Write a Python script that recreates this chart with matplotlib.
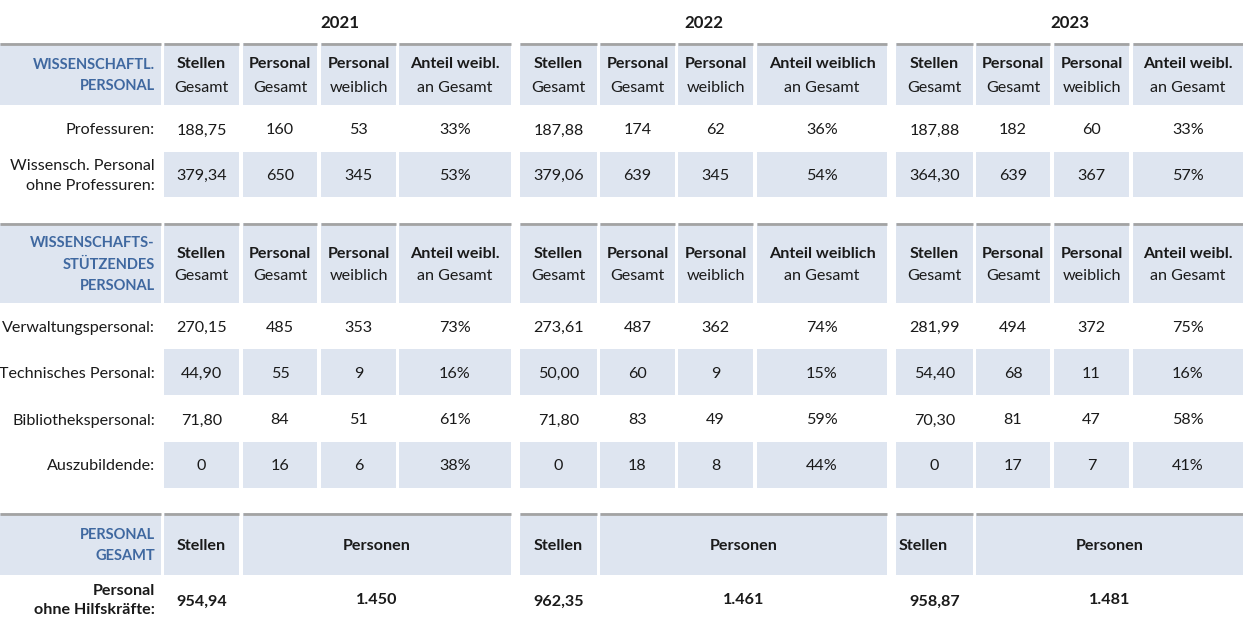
import matplotlib
matplotlib.use("Agg")
import matplotlib.pyplot as plt
from matplotlib.patches import Rectangle

plt.rcParams['font.family'] = ['Lato', 'DejaVu Sans']

# ---------------- data ----------------
years = ['2021', '2022', '2023']
head_bold = ['Stellen', 'Personal', 'Personal', ['Anteil weibl.', 'Anteil weiblich', 'Anteil weibl.']]
head_norm = ['Gesamt', 'Gesamt', 'weiblich', 'an Gesamt']

wiss_title = 'WISSENSCHAFTL.\nPERSONAL'
wiss_rows = ['Professuren:', 'Wissensch. Personal\nohne Professuren:']
wiss_stellen = [[188.75, 379.34], [187.88, 379.06], [187.88, 364.30]]
wiss_pers = [[160, 650], [174, 639], [182, 639]]
wiss_weibl = [[53, 345], [62, 345], [60, 367]]
wiss_anteil = [[33, 53], [36, 54], [33, 57]]

stuetz_title = 'WISSENSCHAFTS-\nSTÜTZENDES\nPERSONAL'
stuetz_rows = ['Verwaltungspersonal:', 'Technisches Personal:', 'Bibliothekspersonal:', 'Auszubildende:']
stuetz_stellen = [[270.15, 44.90, 71.80, 0], [273.61, 50.00, 71.80, 0], [281.99, 54.40, 70.30, 0]]
stuetz_pers = [[485, 55, 84, 16], [487, 60, 83, 18], [494, 68, 81, 17]]
stuetz_weibl = [[353, 9, 51, 6], [362, 9, 49, 8], [372, 11, 47, 7]]
stuetz_anteil = [[73, 16, 61, 38], [74, 15, 59, 44], [75, 16, 58, 41]]

ges_title = 'PERSONAL\nGESAMT'
ges_head = ['Stellen', 'Personen']
ges_row = 'Personal\nohne Hilfskräfte:'
ges_stellen = [954.94, 962.35, 958.87]
ges_personen = [1450, 1461, 1481]

# ---------------- layout ----------------
W, H = 1243, 635
FILL = '#dee5f0'
LINE = '#a3a3a3'
BLUE = '#3f68a0'
TXT = '#1a1a1a'
FS = 11.6
FS_T = 10.5
DY = 1.5

# column edges per year block (pixel layout)
blocks = [
    [(164, 239), (243, 317), (321, 396), (399, 511)],
    [(520, 597), (600, 675), (678, 753), (757, 887)],
    [(896, 973), (976, 1050), (1054, 1129), (1133, 1243)],
]
LABEL_X0, LABEL_X1 = 0, 161
LABEL_R = 155


def fmt_dec(v):
    if v == 0:
        return '0'
    return f'{v:.2f}'.replace('.', ',')


def fmt_thou(v):
    return f'{v:,}'.replace(',', '.')


fig = plt.figure(figsize=(W / 100, H / 100), dpi=100)
ax = fig.add_axes([0, 0, 1, 1])
ax.set_xlim(0, W)
ax.set_ylim(H, 0)
ax.axis('off')


def txt(x, y, s, **kw):
    kw.setdefault('color', TXT)
    kw.setdefault('fontsize', FS)
    kw.setdefault('va', 'center')
    kw.setdefault('linespacing', 1.5)
    ax.text(x, y + DY, s, **kw)


def title(y, s):
    txt(LABEL_R, y, s, ha='right', color=BLUE, fontweight='bold', fontsize=FS_T,
        linespacing=1.5 * FS / FS_T)


def cell(x0, x1, y0, y1, top_line=False):
    ax.add_patch(Rectangle((x0, y0), x1 - x0, y1 - y0, facecolor=FILL, edgecolor='none', zorder=1))
    if top_line:
        ax.plot([x0, x1], [y0 + 1, y0 + 1], color=LINE, lw=2.0, solid_capstyle='butt', zorder=2)


def header(y0, y1, ttl, ytext):
    cell(LABEL_X0, LABEL_X1, y0, y1, True)
    title((y0 + y1) / 2, ttl)
    for b, cols in enumerate(blocks):
        for c, (x0, x1) in enumerate(cols):
            cell(x0, x1, y0, y1, True)
            hb = head_bold[c] if isinstance(head_bold[c], str) else head_bold[c][b]
            xc = (x0 + x1) / 2
            txt(xc, ytext, hb, ha='center', fontweight='bold')
            txt(xc, ytext + 23, head_norm[c], ha='center')


def data_rows(labels, stellen, pers, weibl, anteil, row_spans):
    for r, lab in enumerate(labels):
        y0, y1, shaded = row_spans[r]
        yc = (y0 + y1) / 2
        txt(LABEL_R, yc, lab, ha='right')
        for b, cols in enumerate(blocks):
            vals = [fmt_dec(stellen[b][r]), str(pers[b][r]), str(weibl[b][r]), f'{anteil[b][r]}%']
            for c, (x0, x1) in enumerate(cols):
                if shaded:
                    cell(x0, x1, y0, y1)
                txt((x0 + x1) / 2, yc, vals[c], ha='center')


# year titles
for b, cols in enumerate(blocks):
    xc = (cols[0][0] + cols[-1][1]) / 2
    txt(xc + (2 if b == 0 else 0), 22, years[b], ha='center', fontsize=FS + 0.6, fontweight='bold')

# section 1
header(43, 105, wiss_title, 63)
data_rows(wiss_rows, wiss_stellen, wiss_pers, wiss_weibl, wiss_anteil,
          [(107, 151, False), (152, 197, True)])

# section 2
header(223, 303, stuetz_title, 252)
data_rows(stuetz_rows, stuetz_stellen, stuetz_pers, stuetz_weibl, stuetz_anteil,
          [(305, 348, False), (349, 395, True), (397, 441, False), (442, 488, True)])

# section 3
y0, y1 = 513, 575
cell(LABEL_X0, LABEL_X1, y0, y1, True)
title((y0 + y1) / 2, ges_title)
txt(LABEL_R, 599, ges_row, ha='right', fontweight='bold')
for b, cols in enumerate(blocks):
    sx0, sx1 = cols[0]
    px0, px1 = cols[1][0], cols[3][1]
    cell(sx0, sx1, y0, y1, True)
    cell(px0, px1, y0, y1, True)
    if b == 2:
        txt(sx0 + 3, 545, ges_head[0], ha='left', fontweight='bold')
    else:
        txt((sx0 + sx1) / 2, 545, ges_head[0], ha='center', fontweight='bold')
    txt((px0 + px1) / 2, 544, ges_head[1], ha='center', fontweight='bold')
    txt((sx0 + sx1) / 2, 600, fmt_dec(ges_stellen[b]), ha='center', fontweight='bold')
    txt((px0 + px1) / 2, 598, fmt_thou(ges_personen[b]), ha='center', fontweight='bold')

fig.savefig('out.png', dpi=100, facecolor='white')
